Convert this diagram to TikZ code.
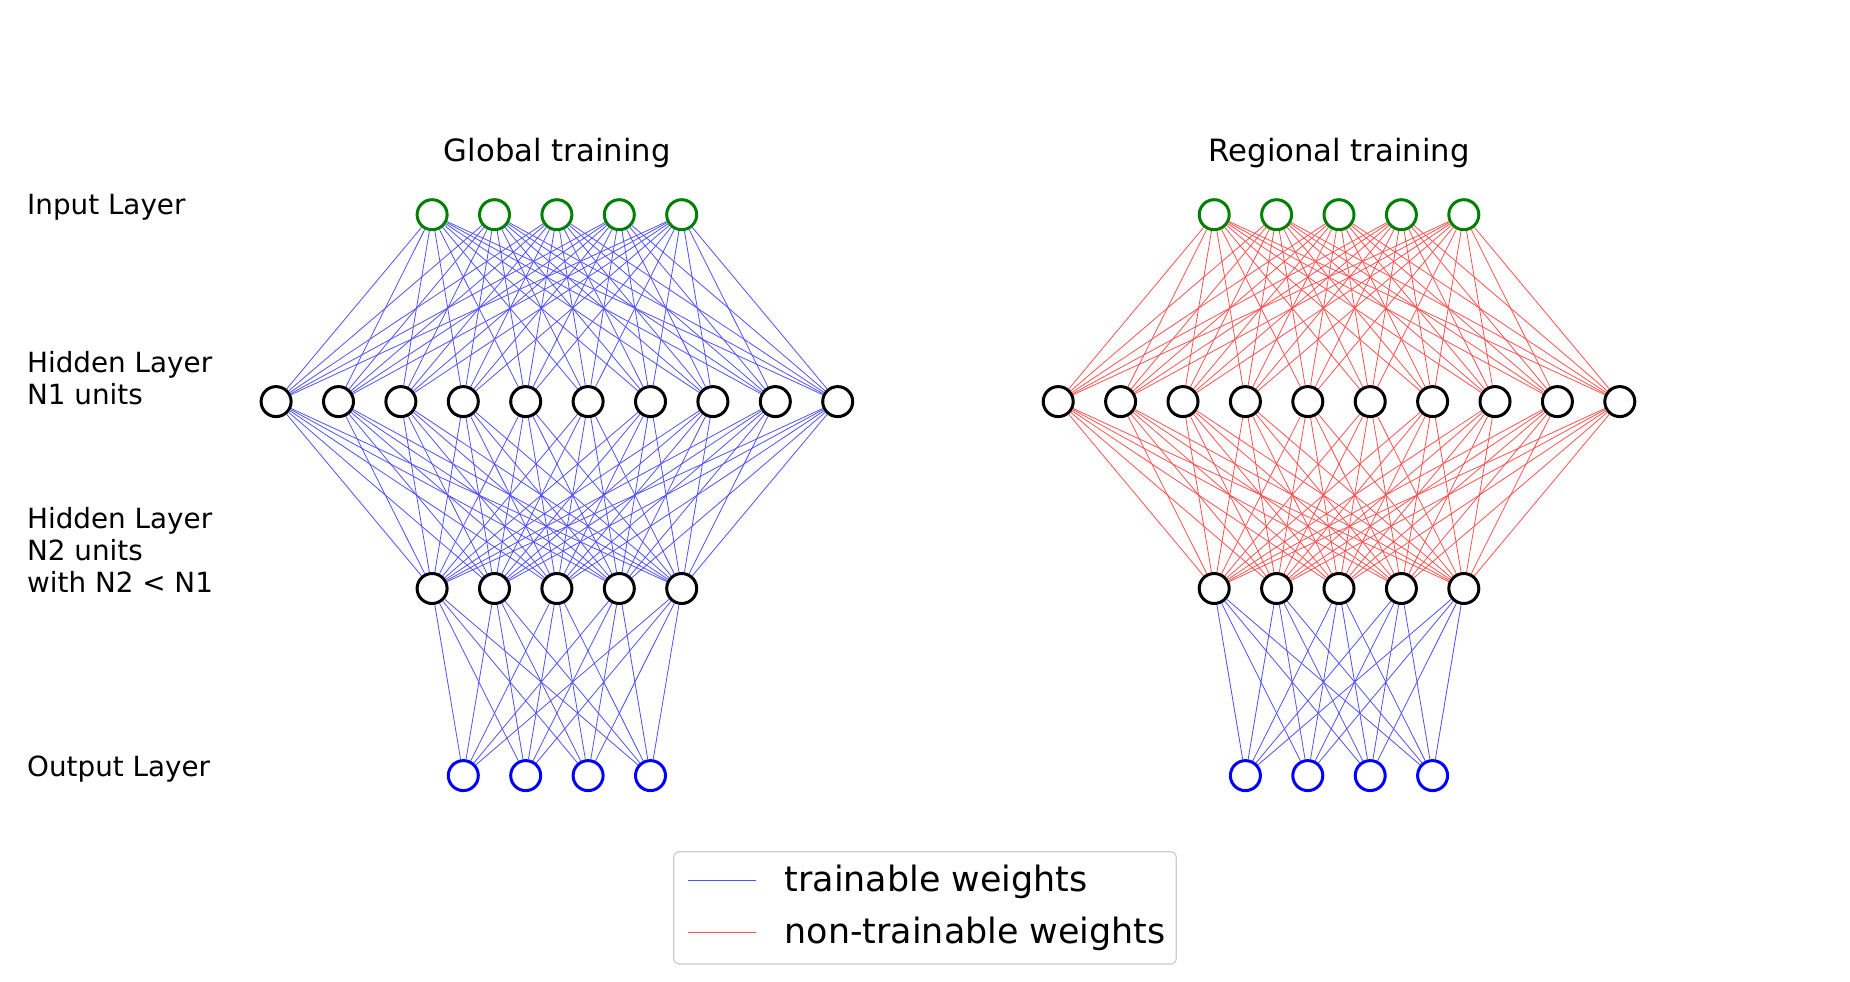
\documentclass[tikz,border=0pt]{standalone}
\usepackage{fontspec}
\setmainfont{DejaVu Sans}
\definecolor{wblue}{RGB}{80,80,255}
\definecolor{wred}{RGB}{255,80,80}
\definecolor{ingreen}{RGB}{0,128,0}
\definecolor{outblue}{RGB}{0,0,255}
\definecolor{legframe}{RGB}{204,204,204}
\begin{document}
\begin{tikzpicture}[x=1pt,y=-1pt,
  neuron/.style={circle, draw=black, line width=3pt, fill=white, minimum size=30pt, inner sep=0pt},
  inneuron/.style={neuron, draw=ingreen},
  outneuron/.style={neuron, draw=outblue},
  trainw/.style={draw=wblue, line width=0.8pt},
  fixw/.style={draw=wred, line width=0.8pt},
  lbl/.style={anchor=west, align=left, inner sep=0pt, font=\fontsize{27.8}{32}\selectfont},
  ttl/.style={inner sep=0pt, font=\fontsize{30.7}{36}\selectfont},
  legtxt/.style={anchor=west, inner sep=0pt, font=\fontsize{34.9}{41}\selectfont}]
\useasboundingbox (0,0) rectangle (1850,982);

% titles
\node[ttl] (tg) at (557.2,153.4) {Global training};
\node[ttl] (tr) at (1339.3,153.4) {Regional training};

% left labels
\node[lbl] (l1) at (27,207.4) {Input Layer};
\node[lbl] (l2) at (27,378.4) {Hidden Layer\\N1 units};
\node[lbl] (l3) at (27,549.9) {Hidden Layer\\N2 units\\with N2 < N1};
\node[lbl] (l4) at (27,769.4) {Output Layer};

% networks
\foreach \p/\cx in {g/556.9, r/1339} {
  \foreach \i in {1,...,5}
    \node[inneuron] (\p i\i) at ({\cx+(\i-3)*62.4},214.7) {};
  \foreach \i in {1,...,10}
    \node[neuron] (\p h\i) at ({\cx+(\i-5.5)*62.4},401.6) {};
  \foreach \i in {1,...,5}
    \node[neuron] (\p k\i) at ({\cx+(\i-3)*62.4},588.5) {};
  \foreach \i in {1,...,4}
    \node[outneuron] (\p o\i) at ({\cx+(\i-2.5)*62.4},775.6) {};
}

% global: all trainable
\foreach \i in {1,...,5}
  \foreach \j in {1,...,10}
    \draw[trainw] (gi\i) -- (gh\j);
\foreach \i in {1,...,10}
  \foreach \j in {1,...,5}
    \draw[trainw] (gh\i) -- (gk\j);
\foreach \i in {1,...,5}
  \foreach \j in {1,...,4}
    \draw[trainw] (gk\i) -- (go\j);

% regional: frozen except last layer
\foreach \i in {1,...,5}
  \foreach \j in {1,...,10}
    \draw[fixw] (ri\i) -- (rh\j);
\foreach \i in {1,...,10}
  \foreach \j in {1,...,5}
    \draw[fixw] (rh\i) -- (rk\j);
\foreach \i in {1,...,5}
  \foreach \j in {1,...,4}
    \draw[trainw] (rk\i) -- (ro\j);

% legend
\draw[draw=legframe, line width=1.2pt, rounded corners=5pt, fill=white] (673.7,851.8) rectangle (1176.3,963.9);
\coordinate (lb1) at (687.8,880);
\coordinate (lb2) at (756.3,880);
\coordinate (lr1) at (687.8,932);
\coordinate (lr2) at (756.3,932);
\draw[trainw] (lb1) -- (lb2);
\draw[fixw] (lr1) -- (lr2);
\node[legtxt] (tw) at (784.4,882) {trainable weights};
\node[legtxt] (nw) at (784.4,934) {non-trainable weights};
\end{tikzpicture}
\end{document}
